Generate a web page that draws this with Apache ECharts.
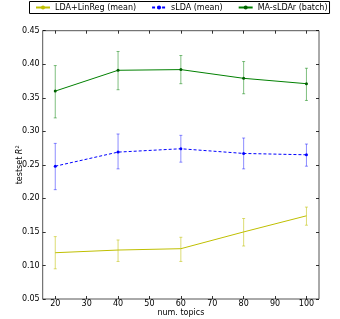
<!DOCTYPE html>
<html><head><meta charset="utf-8">
<script src="https://cdn.jsdelivr.net/npm/echarts@6/dist/echarts.min.js"></script>
<style>html,body{margin:0;padding:0;background:#fff}#c{width:340px;height:319px}</style>
</head><body><div id="c"></div>
<script>
const topics = [20, 40, 60, 80, 100];
const xTicks = [20, 30, 40, 50, 60, 70, 80, 90, 100];
const yTicks = [0.05, 0.10, 0.15, 0.20, 0.25, 0.30, 0.35, 0.40, 0.45];

const ldaMean = [0.119, 0.123, 0.125, 0.150, 0.174];
const ldaLow  = [0.095, 0.106, 0.106, 0.129, 0.160];
const ldaHigh = [0.143, 0.138, 0.142, 0.170, 0.187];

const sldaMean = [0.248, 0.269, 0.274, 0.267, 0.265];
const sldaLow  = [0.213, 0.244, 0.254, 0.244, 0.248];
const sldaHigh = [0.282, 0.296, 0.294, 0.290, 0.281];

const maMean = [0.360, 0.391, 0.392, 0.379, 0.371];
const maLow  = [0.320, 0.362, 0.371, 0.356, 0.346];
const maHigh = [0.398, 0.419, 0.413, 0.404, 0.394];

const FONT = 'DejaVu Sans';
const pts = (m) => topics.map((t, i) => [t, m[i]]);
const errs = (lo, hi) => topics.map((t, i) => [t, lo[i], hi[i]]);

function errSeries(name, lo, hi, color) {
  return {
    type: 'custom', name: name + ' err', silent: true, z: 1,
    data: errs(lo, hi),
    encode: { x: 0, y: [1, 2] },
    renderItem: function (params, api) {
      const x = api.value(0);
      const p1 = api.coord([x, api.value(1)]);
      const p2 = api.coord([x, api.value(2)]);
      const cap = 1.5;
      const style = { stroke: color, lineWidth: 1 };
      return { type: 'group', children: [
        { type: 'line', shape: { x1: p1[0], y1: p1[1], x2: p2[0], y2: p2[1] }, style },
        { type: 'line', shape: { x1: p1[0] - cap, y1: p1[1], x2: p1[0] + cap, y2: p1[1] }, style },
        { type: 'line', shape: { x1: p2[0] - cap, y1: p2[1], x2: p2[0] + cap, y2: p2[1] }, style }
      ]};
    }
  };
}

const chart = echarts.init(document.getElementById('c'), null, { renderer: 'canvas' });
const tickStyle = { inside: true, length: 3, lineStyle: { color: '#000', width: 0.8 } };
chart.setOption({
  animation: false,
  textStyle: { fontFamily: FONT },
  legend: {
    left: 29.5, top: 1.5, width: 310,
    padding: [2, 2, 2, 5.5],
    borderColor: '#000', borderWidth: 1,
    itemWidth: 14, itemHeight: 5, itemGap: 15,
    textStyle: { fontFamily: FONT, fontSize: 8, color: '#000' },
    data: ['LDA+LinReg (mean)', 'sLDA (mean)', 'MA-sLDAr (batch)']
  },
  grid: { left: 42.7, right: 21, top: 30.7, bottom: 20, show: true, borderColor: '#555', borderWidth: 1,
    containLabel: false, outerBoundsMode: 'none' },
  xAxis: [{
    type: 'value', min: 16, max: 104,
    name: 'num. topics', nameLocation: 'middle', nameGap: 10, nameMoveOverlap: false,
    nameTextStyle: { fontFamily: FONT, fontSize: 8, color: '#000' },
    axisLine: { show: false }, splitLine: { show: false },
    axisTick: Object.assign({ customValues: xTicks }, tickStyle),
    axisLabel: { customValues: xTicks, fontFamily: FONT, fontSize: 8, color: '#000', margin: 1 }
  }, {
    type: 'value', min: 16, max: 104, position: 'top',
    axisLine: { show: false }, splitLine: { show: false },
    axisTick: Object.assign({ customValues: xTicks }, tickStyle),
    axisLabel: { show: false }
  }],
  yAxis: [{
    type: 'value', min: 0.05, max: 0.45,
    name: '{a|testset }{i|R}{s|2}', nameLocation: 'middle', nameGap: 18, nameRotate: 90, nameMoveOverlap: false,
    nameTextStyle: { fontFamily: FONT, fontSize: 8, color: '#000',
      rich: { a: { fontFamily: FONT, fontSize: 8, color: '#000' },
              i: { fontFamily: FONT, fontSize: 8, fontStyle: 'italic', color: '#000' },
              s: { fontFamily: FONT, fontSize: 5, color: '#000', verticalAlign: 'top', padding: [0, 0, 4, 0] } } },
    axisLine: { show: false }, splitLine: { show: false },
    axisTick: Object.assign({ customValues: yTicks }, tickStyle),
    axisLabel: { customValues: yTicks, fontFamily: FONT, fontSize: 8, color: '#000', margin: 3,
      formatter: v => v.toFixed(2) }
  }, {
    type: 'value', min: 0.05, max: 0.45, position: 'right',
    axisLine: { show: false }, splitLine: { show: false },
    axisTick: Object.assign({ customValues: yTicks }, tickStyle),
    axisLabel: { show: false }
  }],
  series: [
    errSeries('LDA+LinReg (mean)', ldaLow, ldaHigh, 'rgba(191,191,0,0.55)'),
    errSeries('sLDA (mean)', sldaLow, sldaHigh, 'rgba(0,0,255,0.45)'),
    errSeries('MA-sLDAr (batch)', maLow, maHigh, 'rgba(0,128,0,0.5)'),
    { type: 'line', name: 'LDA+LinReg (mean)', data: pts(ldaMean), z: 3,
      showSymbol: false, symbol: 'none', color: '#bfbf00',
      lineStyle: { color: '#bfbf00', width: 1 } },
    { type: 'line', name: 'sLDA (mean)', data: pts(sldaMean), z: 3,
      symbol: 'circle', symbolSize: 3, color: '#0000ff',
      itemStyle: { color: '#0000ff' },
      lineStyle: { color: '#0000ff', width: 1, type: [3, 2] } },
    { type: 'line', name: 'MA-sLDAr (batch)', data: pts(maMean), z: 3,
      symbol: 'circle', symbolSize: 3, color: '#008000',
      itemStyle: { color: '#006000' },
      lineStyle: { color: '#008000', width: 1 } }
  ]
});
</script></body></html>
